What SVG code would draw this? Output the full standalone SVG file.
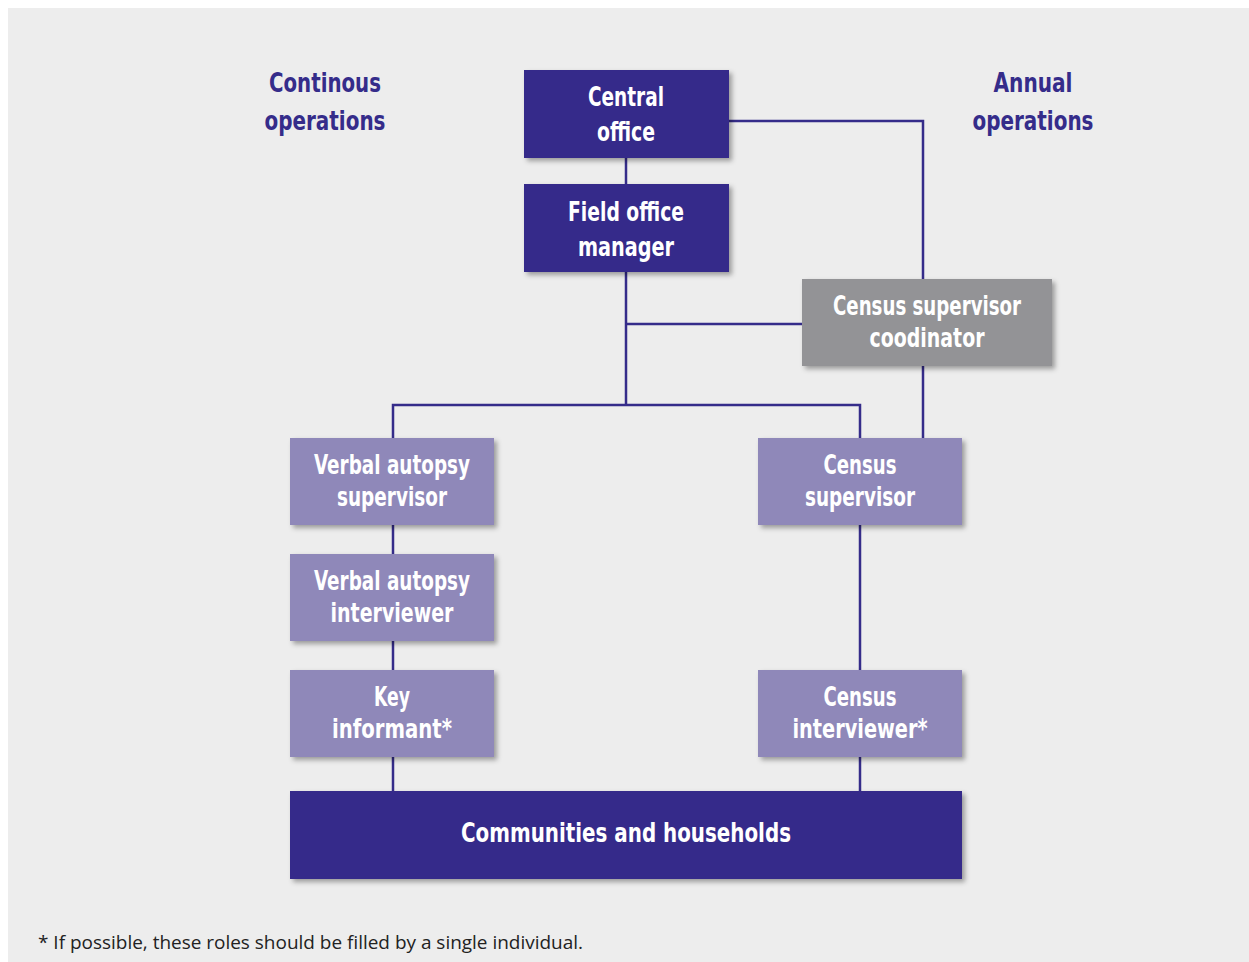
<svg xmlns="http://www.w3.org/2000/svg" width="1249" height="962" viewBox="0 0 1249 962">
  <style>
    .lbl { font-family: "DejaVu Sans Condensed", "Liberation Sans", sans-serif; font-weight: bold; font-size: 26px; text-anchor: middle; }
    .w { fill: #ffffff; }
    .head { fill: #352c8a; }
    .dark { fill: #352c8a; }
    .grey { fill: #939396; }
    .lav { fill: #8f88b9; }
    .conn { fill: none; stroke: #352c8a; stroke-width: 2.5; }
    .note { font-family: "Open Sans", "Liberation Sans", sans-serif; font-size: 19px; fill: #222222; }
  </style>
  <defs>
    <filter id="shadow" x="-10%" y="-10%" width="125%" height="135%">
      <feDropShadow dx="3" dy="3" stdDeviation="2.5" flood-color="#000000" flood-opacity="0.35"/>
    </filter>
  </defs>

  <rect x="0" y="0" width="1249" height="962" fill="#ffffff"/>
  <rect x="8" y="8" width="1241" height="954" fill="#ededed"/>

  <!-- column headings -->
  <text class="lbl head" x="325" y="92" textLength="112" lengthAdjust="spacingAndGlyphs">Continous</text>
  <text class="lbl head" x="325" y="130" textLength="121" lengthAdjust="spacingAndGlyphs">operations</text>
  <text class="lbl head" x="1033" y="92" textLength="79" lengthAdjust="spacingAndGlyphs">Annual</text>
  <text class="lbl head" x="1033" y="130" textLength="121" lengthAdjust="spacingAndGlyphs">operations</text>

  <!-- connectors -->
  <g id="connectors">
    <polyline class="conn" points="729,121 923,121 923,279"/>
    <line class="conn" x1="626" y1="158" x2="626" y2="184"/>
    <line class="conn" x1="626" y1="272" x2="626" y2="405"/>
    <line class="conn" x1="626" y1="324" x2="802" y2="324"/>
    <polyline class="conn" points="393,438 393,405 860,405 860,438"/>
    <line class="conn" x1="923" y1="366" x2="923" y2="438"/>
    <line class="conn" x1="393" y1="525" x2="393" y2="554"/>
    <line class="conn" x1="393" y1="641" x2="393" y2="670"/>
    <line class="conn" x1="393" y1="757" x2="393" y2="791"/>
    <line class="conn" x1="860" y1="525" x2="860" y2="670"/>
    <line class="conn" x1="860" y1="757" x2="860" y2="791"/>
  </g>

  <g id="central-office">
    <rect class="dark" x="524" y="70" width="205" height="88" filter="url(#shadow)"/>
    <text class="lbl w" x="626" y="106" textLength="76" lengthAdjust="spacingAndGlyphs">Central</text>
    <text class="lbl w" x="626" y="141" textLength="58" lengthAdjust="spacingAndGlyphs">office</text>
  </g>

  <g id="field-office-manager">
    <rect class="dark" x="524" y="184" width="205" height="88" filter="url(#shadow)"/>
    <text class="lbl w" x="626" y="221" textLength="116" lengthAdjust="spacingAndGlyphs">Field office</text>
    <text class="lbl w" x="626" y="256" textLength="96" lengthAdjust="spacingAndGlyphs">manager</text>
  </g>

  <g id="census-supervisor-coordinator">
    <rect class="grey" x="802" y="279" width="250" height="87" filter="url(#shadow)"/>
    <text class="lbl w" x="927" y="315" textLength="188" lengthAdjust="spacingAndGlyphs">Census supervisor</text>
    <text class="lbl w" x="927" y="347" textLength="115" lengthAdjust="spacingAndGlyphs">coodinator</text>
  </g>

  <g id="verbal-autopsy-supervisor">
    <rect class="lav" x="290" y="438" width="204" height="87" filter="url(#shadow)"/>
    <text class="lbl w" x="392" y="474" textLength="156" lengthAdjust="spacingAndGlyphs">Verbal autopsy</text>
    <text class="lbl w" x="392" y="506" textLength="110" lengthAdjust="spacingAndGlyphs">supervisor</text>
  </g>

  <g id="verbal-autopsy-interviewer">
    <rect class="lav" x="290" y="554" width="204" height="87" filter="url(#shadow)"/>
    <text class="lbl w" x="392" y="590" textLength="156" lengthAdjust="spacingAndGlyphs">Verbal autopsy</text>
    <text class="lbl w" x="392" y="622" textLength="123" lengthAdjust="spacingAndGlyphs">interviewer</text>
  </g>

  <g id="key-informant">
    <rect class="lav" x="290" y="670" width="204" height="87" filter="url(#shadow)"/>
    <text class="lbl w" x="392" y="706" textLength="36" lengthAdjust="spacingAndGlyphs">Key</text>
    <text class="lbl w" x="392" y="738" textLength="120" lengthAdjust="spacingAndGlyphs">informant*</text>
  </g>

  <g id="census-supervisor">
    <rect class="lav" x="758" y="438" width="204" height="87" filter="url(#shadow)"/>
    <text class="lbl w" x="860" y="474" textLength="73" lengthAdjust="spacingAndGlyphs">Census</text>
    <text class="lbl w" x="860" y="506" textLength="110" lengthAdjust="spacingAndGlyphs">supervisor</text>
  </g>

  <g id="census-interviewer">
    <rect class="lav" x="758" y="670" width="204" height="87" filter="url(#shadow)"/>
    <text class="lbl w" x="860" y="706" textLength="73" lengthAdjust="spacingAndGlyphs">Census</text>
    <text class="lbl w" x="860" y="738" textLength="135" lengthAdjust="spacingAndGlyphs">interviewer*</text>
  </g>

  <g id="communities-households">
    <rect class="dark" x="290" y="791" width="672" height="88" filter="url(#shadow)"/>
    <text class="lbl w" x="626" y="842" textLength="330" lengthAdjust="spacingAndGlyphs">Communities and households</text>
  </g>

  <text class="note" x="38" y="949" textLength="545" lengthAdjust="spacingAndGlyphs">* If possible, these roles should be filled by a single individual.</text>
</svg>
